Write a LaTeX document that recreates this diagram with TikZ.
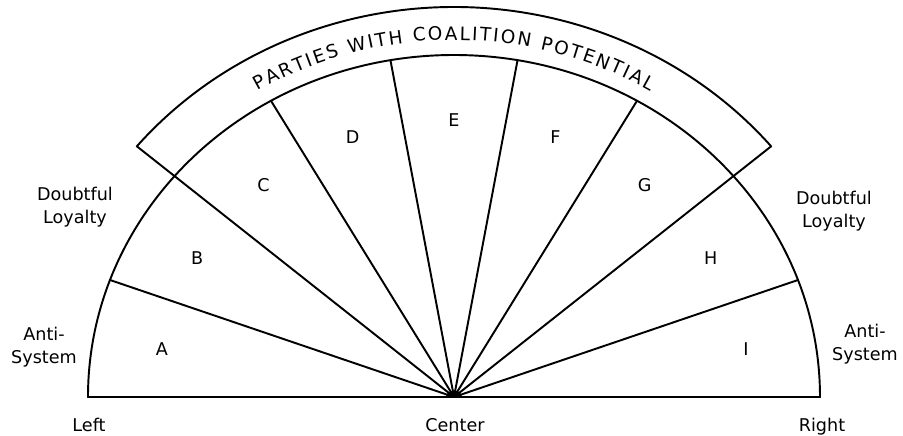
\documentclass[tikz,border=0pt]{standalone}
\usepackage{fontspec}
\setmainfont{DejaVu Sans}
\usetikzlibrary{decorations.text}
\newcommand{\semix}{7.32}
\newcommand{\semiy}{6.84}
\newcommand{\bandx}{8.28}
\newcommand{\bandy}{7.8}
\tikzset{
  every picture/.style={line join=round, line cap=round},
  rim/.style={line width=1.1pt},
  sector label/.style={font=\fontsize{10}{13}\selectfont},
  side label/.style={font=\fontsize{10}{13}\selectfont, align=center},
}

\begin{document}
\begin{tikzpicture}
\useasboundingbox (-9.08,-0.78) rectangle (8.98,7.94);
\coordinate (O) at (0,0);
% half ellipse
\draw[rim] (0:{\semix} and {\semiy}) arc[start angle=0, end angle=180, x radius=\semix, y radius=\semiy] -- cycle;
\foreach \t in {20,60,80,100,120,160}{\draw[rim] (O) -- (\t:{\semix} and {\semiy});}
% band on top
\draw[rim] (O) -- (40:{\bandx} and {\bandy}) arc[start angle=40, end angle=140, x radius=\bandx, y radius=\bandy] -- cycle;
\path[decorate, decoration={text along path, text align={fit to path},
  text={|\fontsize{10.5}{12}\selectfont|PARTIES WITH COALITION POTENTIAL}}]
  (121:7.62 and 7.14) arc[start angle=121, end angle=59, x radius=7.62, y radius=7.14];
\fill ([xshift=-0.16cm]O) arc[start angle=180, end angle=0, x radius=0.16cm, y radius=0.13cm] -- cycle;
% sectors
\foreach \lab [count=\i] in {A,B,C,D,E,F,G,H,I}{
  \node[sector label] (sec-\lab) at ({190-20*\i}:5.93 and 5.54) {\lab};
}
% side texts
\node[side label] (loyal-l) at (-7.58,3.79) {Doubtful\\Loyalty};
\node[side label] (anti-l) at (-8.2,1.0) {Anti-\\System};
\node[side label] (loyal-r) at (7.6,3.71) {Doubtful\\Loyalty};
\node[side label] (anti-r) at (8.22,1.06) {Anti-\\System};
\node[side label, anchor=base] (end-l) at (-7.3,-0.7) {Left};
\node[side label, anchor=base] (mid) at (0.02,-0.7) {Center};
\node[side label, anchor=base] (end-r) at (7.36,-0.7) {Right};
\end{tikzpicture}
\end{document}
